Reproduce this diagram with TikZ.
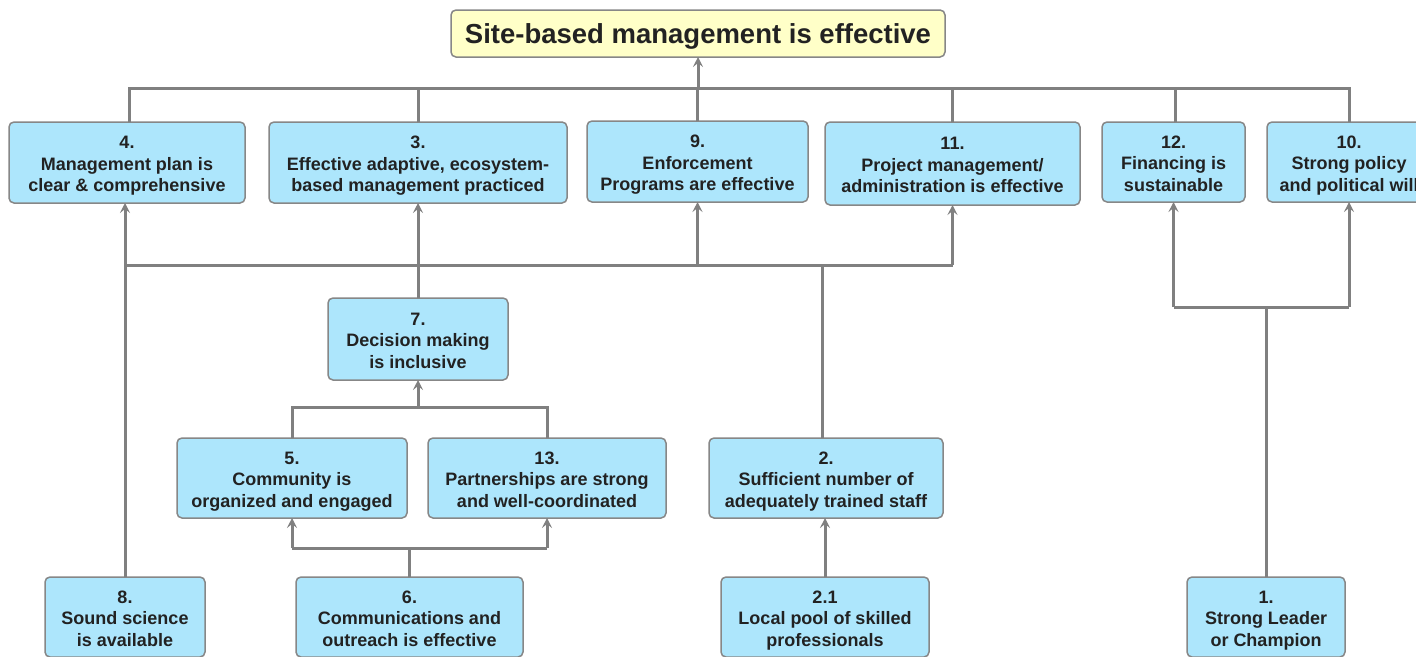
\documentclass[tikz,border=0pt]{standalone}
\usepackage{fontspec}
\setmainfont{Liberation Sans}
\usetikzlibrary{arrows.meta}
\definecolor{boxfill}{RGB}{173,230,252}
\definecolor{titlefill}{RGB}{255,255,200}
\definecolor{linegray}{RGB}{128,128,128}
\definecolor{bordergray}{RGB}{135,135,135}
\definecolor{txt}{RGB}{34,34,34}
\tikzset{
  box/.style={draw=bordergray, line width=1.5pt, fill=boxfill, rounded corners=5pt,
    inner sep=0pt, outer sep=0pt, align=center, text=txt, anchor=north west,
    font=\fontsize{18}{21.5}\selectfont\bfseries},
  titlebox/.style={box, fill=titlefill, font=\fontsize{27.5}{30}\selectfont\bfseries, text depth=0pt},
  conn/.style={draw=linegray, line width=3pt},
  arr/.style={conn, -{Stealth[length=10pt,width=10pt,inset=4pt]}},
}
\newcommand\mkbox[8]{%
  \node[box, minimum width={#4-#2}, minimum height={#5-#3}] (#1) at (#2,#3)
    {\rule{0pt}{20pt}#6\\#7\\#8\rule[-5pt]{0pt}{5pt}};}
\begin{document}
\begin{tikzpicture}[x=1pt,y=-1pt]
\useasboundingbox (0,0) rectangle (1416,656);
\clip (0,0) rectangle (1416,656);
\fill[white] (0,0) rectangle (1416,656);

% title
\node[titlebox, minimum width=494, minimum height=47] (t) at (451,10) {Site-based management is effective};

% row 1
\mkbox{n4}{9}{122}{245}{203}{4.}{Management plan is}{clear \& comprehensive}
\mkbox{n3}{269}{122}{567}{203}{3.}{Effective adaptive, ecosystem-}{based management practiced}
\mkbox{n9}{587}{121}{808}{202}{9.}{Enforcement}{Programs are effective}
\mkbox{n11}{825}{122}{1080}{205}{11.}{Project management/}{administration is effective}
\mkbox{n12}{1102}{122}{1245}{202}{12.}{Financing is}{sustainable}
\mkbox{n10}{1267}{122}{1431}{202}{10.}{Strong policy}{and political will}

% middle
\mkbox{n7}{328}{298}{508}{380}{7.}{Decision making}{is inclusive}
\mkbox{n5}{177}{438}{407}{518}{5.}{Community is}{organized and engaged}
\mkbox{n13}{428}{438}{666}{518}{13.}{Partnerships are strong}{and well-coordinated}
\mkbox{n2}{709}{438}{943}{518}{2.}{Sufficient number of}{adequately trained staff}

% bottom row
\mkbox{n8}{45}{577}{205}{657}{8.}{Sound science}{is available}
\mkbox{n6}{296}{577}{523}{657}{6.}{Communications and}{outreach is effective}
\mkbox{n21}{721}{577}{929}{657}{2.1}{Local pool of skilled}{professionals}
\mkbox{n1}{1187}{577}{1345}{657}{1.}{Strong Leader}{or Champion}

% bus coordinates
\coordinate (b1) at (698,88);
\coordinate (b2) at (822,265);
\coordinate (b3) at (417,407);
\coordinate (b4) at (409,548);
\coordinate (b5) at (1265,307);

% top bus to title
\draw[conn] ([xshift=2pt]n4.north) -- ([xshift=2pt]n4.north |- b1) -- (n10.north |- b1) -- (n10.north);
\draw[conn] (n3.north) -- (n3.north |- b1);
\draw[conn] (n9.north) -- (n9.north |- b1);
\draw[conn] (n11.north) -- (n11.north |- b1);
\draw[conn] ([xshift=2pt]n12.north) -- ([xshift=2pt]n12.north |- b1);
\draw[arr] (b1) -- (t.south);

% second bus
\draw[arr] (n8.north) -- (n8.north |- n4.south);
\draw[arr] (n7.north) -- (n3.south);
\draw[conn] ([xshift=-4pt]n2.north) -- ([xshift=-4pt]n2.north |- b2);
\draw[conn] (n8.north |- b2) -- (n11.south |- b2);
\draw[arr] (n9.south |- b2) -- (n9.south);
\draw[arr] (n11.south |- b2) -- (n11.south);

% 5/13 -> 7
\draw[conn] (n5.north) -- (n5.north |- b3) -- (n13.north |- b3) -- (n13.north);
\draw[arr] (n7.south |- b3) -- (n7.south);

% 6 -> 5/13
\draw[conn] (n6.north) -- (n6.north |- b4);
\draw[conn] (n5.south |- b4) -- (n13.south |- b4);
\draw[arr] (n5.south |- b4) -- (n5.south);
\draw[arr] (n13.south |- b4) -- (n13.south);

% 2.1 -> 2
\draw[arr] (n21.north) -- (n2.south -| n21.north);

% 1 -> 12/10
\draw[conn] (n1.north) -- (n1.north |- b5);
\draw[conn] (n12.south |- b5) -- (n10.south |- b5);
\draw[arr] (n12.south |- b5) -- (n12.south);
\draw[arr] (n10.south |- b5) -- (n10.south);
\end{tikzpicture}
\end{document}
